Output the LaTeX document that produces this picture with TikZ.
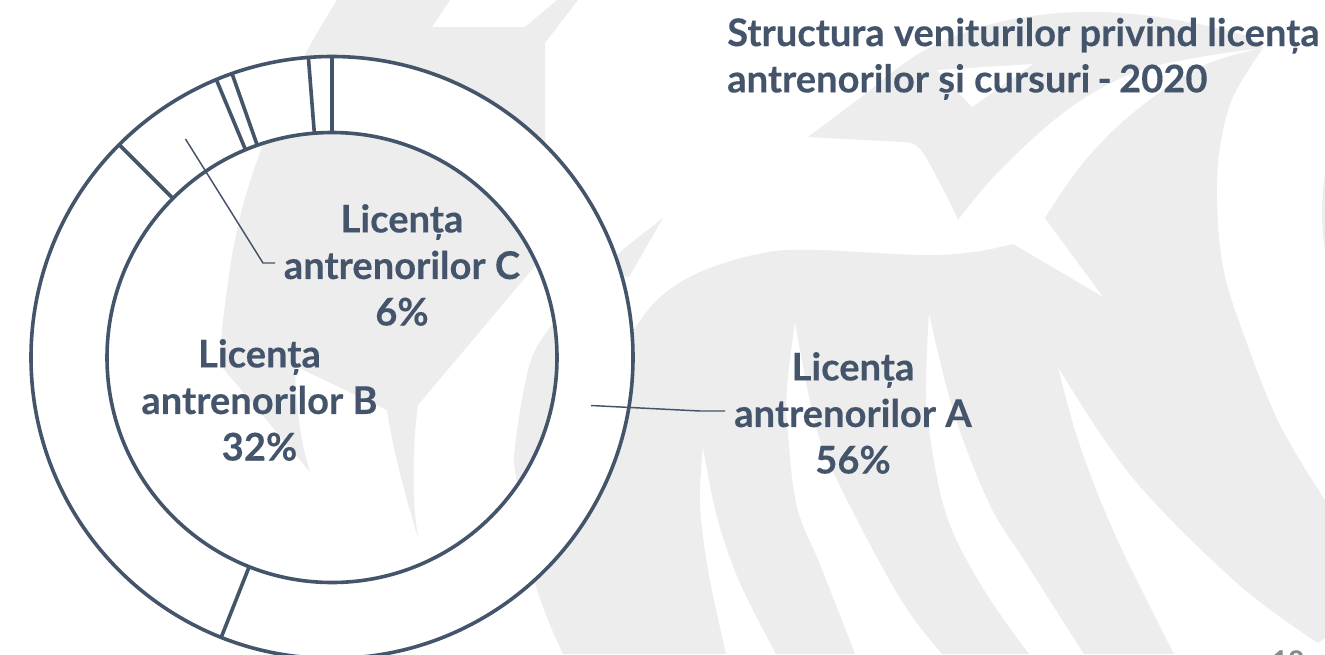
\documentclass[tikz,border=0pt]{standalone}
\usepackage{fontspec}
\setmainfont{Lato}[BoldFont={Lato Bold},BoldFeatures={FakeBold=0.25}]
\usetikzlibrary{calc}
\definecolor{ink}{HTML}{44546A}
\definecolor{bgshape}{HTML}{EDEDED}
\definecolor{pagenum}{HTML}{898989}
\tikzset{
  bgfill/.style={fill=bgshape,draw=none},
  ringline/.style={draw=ink,line width=2.7pt},
  leader/.style={draw=ink,line width=1.1pt},
  label/.style={text=ink,font=\fontsize{28.6}{34.9}\selectfont\bfseries,align=center,inner sep=0pt},
  titletext/.style={text=ink,font=\fontsize{28.6}{34.7}\selectfont\bfseries,align=left,inner sep=0pt,anchor=north west}
}
\begin{document}
\begin{tikzpicture}[x=0.75pt,y=-0.75pt]
\useasboundingbox (0,0) rectangle (1325,654);
\clip (0,0) rectangle (1325,654);
\fill[white] (0,0) rectangle (1325,654);
% background silhouette
\fill[bgfill] (450,0) -- (432,27) -- (525,27) -- (557,0) -- (578,0) -- (545,43) -- (545,150) -- (540,260) -- (418,405)
  .. controls (412,450) and (412,500) .. (418,538)
  .. controls (405,495) and (393,450) .. (387,410)
  -- (295,366)
  .. controls (296,405) and (300,440) .. (310,472)
  -- (222,367)
  -- plot[smooth,tension=.6] coordinates {(222,367) (222,330) (237,230) (263,145) (305,55) (337,0)} -- cycle;
\fill[bgfill] (663,218) -- (626,247) -- (600,270) -- (629,277) -- cycle;
\fill[bgfill] (808,137) -- plot[smooth,tension=.6] coordinates {(868,92) (925,50) (1000,22) (1080,12) (1158,17) (1237,33) (1263,47)}
  -- plot[smooth,tension=.6] coordinates {(1263,48) (1200,57) (1133,73) (1067,110) (1000,170) (958,220)}
  -- plot[smooth,tension=.6] coordinates {(958,220) (947,197) (921,150) (903,142)} -- cycle;
\fill[white] (1033,64) -- (937,70) -- (972,107) -- cycle;
\fill[bgfill] (563,654) -- plot[smooth,tension=.6] coordinates {(563,654) (535,583) (517,483) (515,447) (530,363) (552,325)}
  -- (600,345) -- plot[smooth,tension=.6] coordinates {(627,340) (657,300) (700,272) (763,253) (816,250) (921,255) (974,252) (1013,244)}
  -- (1103,297) -- (1045,218)
  -- plot[smooth,tension=.6] coordinates {(1045,218) (1083,163) (1133,113) (1200,67) (1263,48)}
  -- plot[smooth,tension=.6] coordinates {(1263,48) (1233,97) (1220,147) (1217,200) (1223,267) (1242,330) (1279,423) (1325,500)}
  -- (1325,638) -- (1318,643)
  -- plot[smooth,tension=.6] coordinates {(1318,643) (1237,583) (1132,477) (1058,367)}
  -- plot[smooth,tension=.6] coordinates {(1058,367) (1079,443) (1116,537) (1174,654)}
  -- (1084,654)
  -- plot[smooth,tension=.6] coordinates {(1084,654) (1026,563) (989,503) (953,410) (929,313)}
  -- plot[smooth,tension=.6] coordinates {(929,313) (926,380) (929,430) (947,517) (984,590) (1029,654)}
  -- (942,654)
  -- plot[smooth,tension=.6] coordinates {(942,654) (900,598) (842,490) (816,427) (795,322)}
  -- plot[smooth,tension=.6] coordinates {(795,322) (787,387) (788,433) (797,507) (821,567) (855,654)}
  -- (776,654)
  -- plot[smooth,tension=.6] coordinates {(776,654) (740,583) (717,517) (703,447)}
  -- plot[smooth,tension=.6] coordinates {(703,447) (700,503) (708,570) (726,654)} -- cycle;
\fill[bgfill] (1325,175) .. controls (1321,200) and (1321,225) .. (1325,250) -- cycle;
% donut
\coordinate (c) at (332,357.5);
\fill[white,even odd rule] (c) circle [radius=301] (c) circle [radius=225];
\foreach \b in {0,-4.5,-19.4,-22.6,-45,201.6}{
  \draw[ringline] ($(c)+(\b-90:225)$) -- ($(c)+(\b-90:301)$);
}
\draw[ringline] (c) circle [radius=301];
\draw[ringline] (c) circle [radius=225];
% labels
\node[titletext] (title) at (727,17.5) {Structura veniturilor privind licența\\antrenorilor și cursuri\hspace{-1.5pt} -\hspace{-1.5pt} 2020};
\node[label] (labA) at (853,413) {Licența\\antrenorilor A\\56\%};
\node[label] (labB) at (259.5,400) {Licența\\antrenorilor B\\32\%};
\node[label] (labC) at (402,265) {Licența\\antrenorilor C\\6\%};
\coordinate (aStart) at (591,405.5);
\coordinate (aBend) at (700,411);
\coordinate (aEnd) at (725,411);
\coordinate (cStart) at (185.5,139);
\coordinate (cBend) at (263,263);
\coordinate (cEnd) at (275,263);
\draw[leader] (aStart) -- (aBend) -- (aEnd);
\draw[leader] (cStart) -- (cBend) -- (cEnd);
\node[text=pagenum,font=\fontsize{21}{21}\selectfont\bfseries,inner sep=0pt,anchor=north] (pg) at (1288,650) {18};
\end{tikzpicture}
\end{document}
